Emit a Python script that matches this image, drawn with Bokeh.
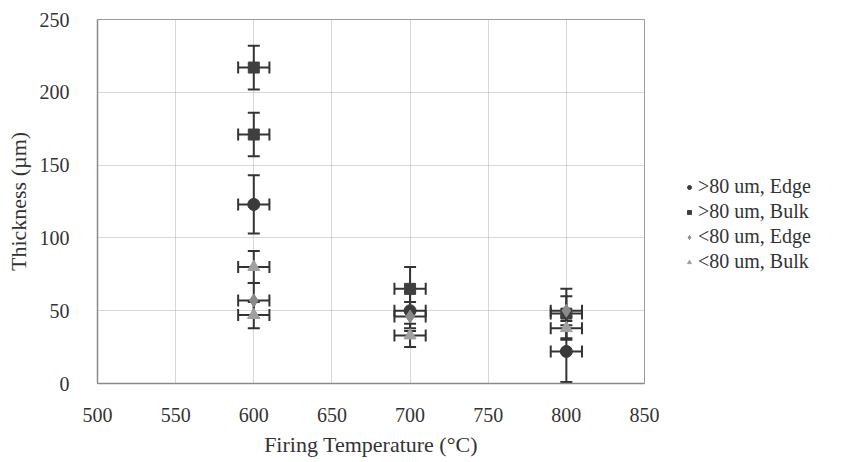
from bokeh.plotting import figure
from bokeh.models import ColumnDataSource, Whisker, TeeHead, Legend, LegendItem, FixedTicker
from bokeh.embed import file_html
from bokeh.resources import INLINE

# ---- data ----
x_ticks = [500, 550, 600, 650, 700, 750, 800, 850]
y_ticks = [0, 50, 100, 150, 200, 250]

edge_hi_temp = [600, 700, 800]
edge_hi_thick = [123, 50, 22]
edge_hi_yerr = [20, 12, 21]
edge_hi_xerr = [10, 10, 10]

bulk_hi_temp = [600, 600, 700, 800]
bulk_hi_thick = [217, 171, 65, 48]
bulk_hi_yerr = [15, 15, 15, 17]
bulk_hi_xerr = [10, 10, 10, 10]

edge_lo_temp = [600, 700, 800]
edge_lo_thick = [57, 46, 50]
edge_lo_yerr = [12, 10, 10]
edge_lo_xerr = [10, 10, 10]

bulk_lo_temp = [600, 600, 700, 800]
bulk_lo_thick = [80, 47, 33, 38]
bulk_lo_yerr = [11, 9, 8, 8]
bulk_lo_xerr = [10, 10, 10, 10]

series = [
    (">80 um, Edge", edge_hi_temp, edge_hi_thick, edge_hi_yerr, edge_hi_xerr, "circle", "#3a3a3a", 12),
    (">80 um, Bulk", bulk_hi_temp, bulk_hi_thick, bulk_hi_yerr, bulk_hi_xerr, "square", "#3f3f3f", 11),
    ("<80 um, Edge", edge_lo_temp, edge_lo_thick, edge_lo_yerr, edge_lo_xerr, "diamond", "#8a8a8a", 13),
    ("<80 um, Bulk", bulk_lo_temp, bulk_lo_thick, bulk_lo_yerr, bulk_lo_xerr, "triangle", "#a0a0a0", 12),
]

FONT = "Liberation Serif"
QFONT = "'Liberation Serif'"
TXT = "#333333"

p = figure(frame_width=547, frame_height=364, x_range=(500, 850), y_range=(0, 250),
           output_backend="svg", toolbar_location=None,
           min_border_left=97, min_border_right=0, min_border_top=19, min_border_bottom=78)

p.background_fill_color = "white"
p.border_fill_color = "white"
p.outline_line_color = "#9a9a9a"
p.outline_line_width = 1

p.xaxis.ticker = FixedTicker(ticks=x_ticks)
p.yaxis.ticker = FixedTicker(ticks=y_ticks)
p.xgrid.ticker = FixedTicker(ticks=x_ticks)
p.ygrid.ticker = FixedTicker(ticks=y_ticks)
for g in (p.xgrid, p.ygrid):
    g.grid_line_color = "#b0b0b0"
    g.grid_line_dash = "1 1"
    g.grid_line_width = 1

for ax in (p.xaxis[0], p.yaxis[0]):
    ax.axis_line_color = "#8a8a8a"
    ax.axis_line_width = 1.5
    ax.major_tick_line_color = None
    ax.minor_tick_line_color = None
    ax.major_label_text_font = QFONT
    ax.major_label_text_font_size = "20px"
    ax.major_label_text_color = TXT
    ax.axis_label_text_font = FONT
    ax.axis_label_text_font_size = "22px"
    ax.axis_label_text_font_style = "normal"
    ax.axis_label_text_color = TXT

p.xaxis.axis_label = "Firing Temperature (°C)"
p.yaxis.axis_label = "Thickness (µm)"
p.xaxis.major_label_standoff = 18
p.yaxis.major_label_standoff = 22
p.xaxis.axis_label_standoff = 7
p.yaxis.axis_label_standoff = 6

items = []
for name, t, th, ye, xe, marker, color, size in series:
    src = ColumnDataSource(dict(
        x=t, y=th,
        ylo=[a - b for a, b in zip(th, ye)], yhi=[a + b for a, b in zip(th, ye)],
        xlo=[a - b for a, b in zip(t, xe)], xhi=[a + b for a, b in zip(t, xe)],
    ))
    wy = Whisker(source=src, base="x", lower="ylo", upper="yhi", dimension="height",
                 line_color="#333333", line_width=2, level="underlay",
                 upper_head=TeeHead(size=12, line_color="#333333", line_width=2),
                 lower_head=TeeHead(size=12, line_color="#333333", line_width=2))
    wx = Whisker(source=src, base="y", lower="xlo", upper="xhi", dimension="width",
                 line_color="#333333", line_width=2, level="underlay",
                 upper_head=TeeHead(size=12, line_color="#333333", line_width=2),
                 lower_head=TeeHead(size=12, line_color="#333333", line_width=2))
    p.add_layout(wy)
    p.add_layout(wx)
    r = p.scatter("x", "y", source=src, marker=marker, size=size,
                  fill_color=color, line_color=color)
    items.append(LegendItem(label=name, renderers=[r]))

legend = Legend(items=items, location=(40, 110), orientation="vertical")
legend.background_fill_alpha = 0
legend.border_line_color = None
legend.label_text_font = QFONT
legend.label_text_font_size = "20px"
legend.label_text_color = TXT
legend.glyph_width = 10
legend.glyph_height = 20
legend.label_height = 20
legend.spacing = 2
legend.label_standoff = 4
legend.padding = 0
legend.margin = 0
p.add_layout(legend, "right")

open("out.html", "w").write(file_html(p, INLINE))
